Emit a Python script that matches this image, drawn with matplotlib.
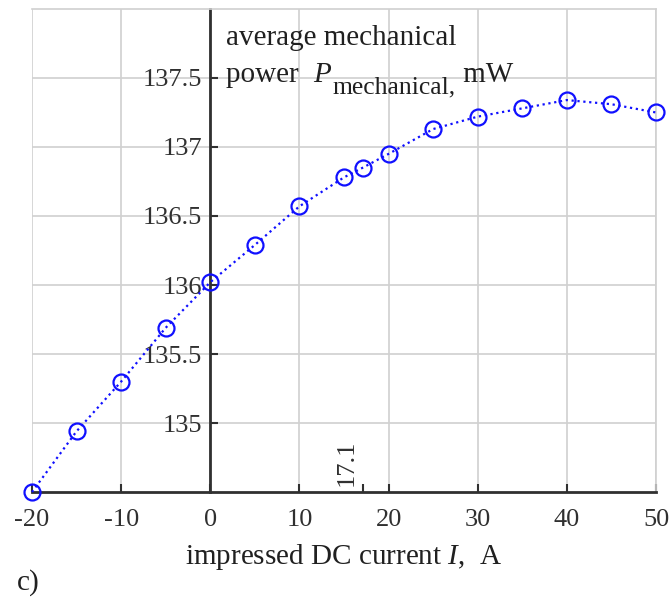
import matplotlib
matplotlib.use("Agg")
import matplotlib.pyplot as plt

plt.rcParams['font.family'] = ['Liberation Serif', 'DejaVu Serif']
plt.rcParams['mathtext.fontset'] = 'custom'
plt.rcParams['mathtext.rm'] = 'Liberation Serif'
plt.rcParams['mathtext.it'] = 'Liberation Serif:italic'

current = [-20, -15, -10, -5, 0, 5, 10, 15, 17.1, 20, 25, 30, 35, 40, 45, 50]
power = [134.50, 134.94, 135.30, 135.69, 136.02, 136.29, 136.57, 136.78, 136.85,
         136.95, 137.13, 137.22, 137.28, 137.34, 137.31, 137.25]
xticks = [-20, -10, 0, 10, 20, 30, 40, 50]
yticks = [135, 135.5, 136, 136.5, 137, 137.5]
ytick_labels = ['135', '135.5', '136', '136.5', '137', '137.5']
special_x = 17.1

W, H = 672, 599
FS = 19
FS2 = 21
TXT = '#202020'
fig = plt.figure(figsize=(W / 100, H / 100), dpi=100)
ax = fig.add_axes([0.0476, 0.1786, 0.9286, 0.8064])
ax.set_xlim(-20, 50)
ax.set_ylim(134.5, 138)

ax.grid(True, color='#d0d0d0', linewidth=1.2)
ax.set_axisbelow(True)

ax.spines['left'].set_position(('data', 0))
ax.spines['left'].set_color('#303030')
ax.spines['left'].set_linewidth(2)
ax.spines['bottom'].set_color('#303030')
ax.spines['bottom'].set_linewidth(2)
ax.spines['top'].set_color('#d0d0d0')
ax.spines['top'].set_linewidth(1.2)
ax.spines['right'].set_color('#d0d0d0')
ax.spines['right'].set_linewidth(1.2)

ax.set_xticks(xticks + [special_x])
ax.set_xticklabels([str(t) for t in xticks] + [''])
ax.set_yticks(yticks)
ax.set_yticklabels(ytick_labels)
ax.tick_params(axis='x', direction='in', length=6, width=1.5, color='#303030',
               labelsize=FS, pad=12, colors='#303030')
ax.tick_params(axis='y', direction='in', length=6, width=1.5, color='#303030',
               labelsize=FS, pad=6, colors='#303030')
for g in ax.get_xgridlines()[-1:]:
    g.set_visible(False)

ax.plot(current, power, linestyle=':', color='#1010ff', linewidth=1.6,
        marker='o', markersize=11.5, markerfacecolor='none',
        markeredgecolor='#1010ff', markeredgewidth=1.6, clip_on=False, zorder=5)

ax.text(special_x - 0.6, 134.54, str(special_x), rotation=90, ha='right', va='bottom',
        fontsize=FS, color='#303030')

# annotation in pixel positions (from top-left)
def fx(px):
    return px / W

def fy(py):
    return 1 - py / H

fig.text(fx(226), fy(45), 'average mechanical', fontsize=FS2, color=TXT, va='baseline')

renderer = fig.canvas.get_renderer()
x0 = 226
t = fig.text(fx(x0), fy(82), 'power  ', fontsize=FS2, color=TXT, va='baseline')
x0 += t.get_window_extent(renderer).width
t = fig.text(fx(x0), fy(82), 'P', fontsize=FS2, color=TXT, va='baseline', style='italic')
x0 += t.get_window_extent(renderer).width + 2
t = fig.text(fx(x0), fy(93), 'mechanical,', fontsize=FS2 * 0.88, color=TXT, va='baseline')
x0 += t.get_window_extent(renderer).width
fig.text(fx(x0), fy(82), ' mW', fontsize=FS2, color=TXT, va='baseline')

ax.set_xlabel(r'impressed DC current $I$,  A', fontsize=FS2, color=TXT, labelpad=8)
fig.text(fx(17), fy(590), 'c)', fontsize=FS2, color=TXT, va='baseline')

fig.savefig('out.png', dpi=100)
